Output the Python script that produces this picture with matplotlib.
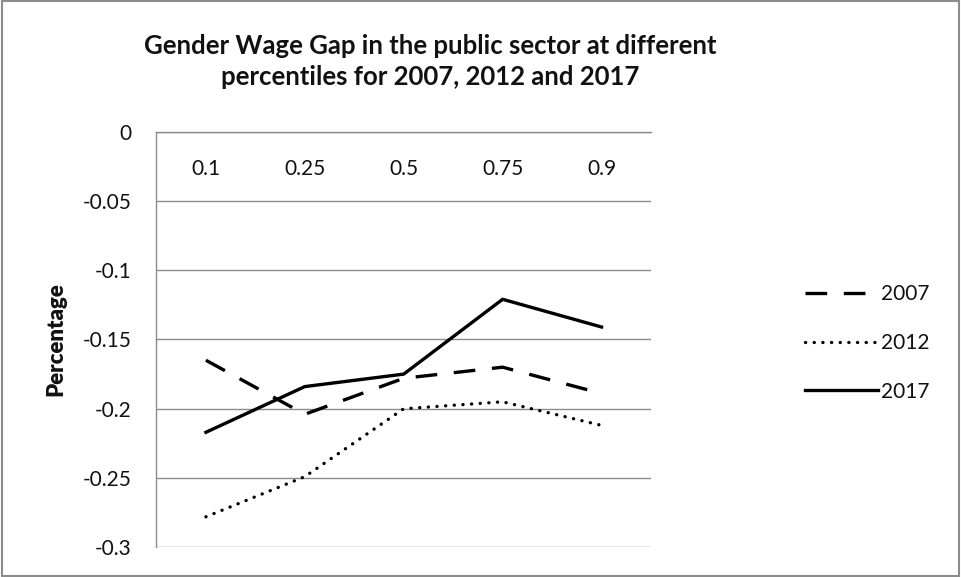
import matplotlib
matplotlib.use("Agg")
import matplotlib.pyplot as plt
from matplotlib.patches import Rectangle

plt.rcParams['font.family'] = ['Lato', 'DejaVu Sans']

percentiles = ["0.1", "0.25", "0.5", "0.75", "0.9"]
gap_2007 = [-0.165, -0.204, -0.178, -0.170, -0.189]
gap_2012 = [-0.278, -0.249, -0.200, -0.195, -0.212]
gap_2017 = [-0.217, -0.184, -0.175, -0.121, -0.141]
y_ticks = [0, -0.05, -0.1, -0.15, -0.2, -0.25, -0.3]
y_labels = ["0", "-0.05", "-0.1", "-0.15", "-0.2", "-0.25", "-0.3"]

grid_color = "#8c8c8c"
text_color = "#111111"

fig = plt.figure(figsize=(9.61, 5.77), dpi=100)
fig.patches.append(Rectangle((0.002, 0.002), 0.996, 0.996, transform=fig.transFigure,
                             fill=False, edgecolor="#8c8c8c", linewidth=1.5))
ax = fig.add_axes([0.1628, 0.0515, 0.5146, 0.7203])

x = list(range(len(percentiles)))
ax.plot(x, gap_2007, color="black", linewidth=2.4, dashes=(6.5, 5), label="2007")
ax.plot(x, gap_2012, color="black", linewidth=2.4, linestyle=(0, (0.05, 2.55)),
        dash_capstyle="round", label="2012")
ax.plot(x, gap_2017, color="black", linewidth=2.4, label="2017")

ax.set_xlim(-0.5, len(percentiles) - 0.5)
ax.set_ylim(-0.3, 0)
ax.set_yticks(y_ticks)
ax.set_yticklabels(y_labels)
ax.set_xticks(x)
ax.set_xticklabels(percentiles)

ax.grid(axis="y", color=grid_color, linewidth=1)
ax.set_axisbelow(True)
for side in ["right", "bottom"]:
    ax.spines[side].set_visible(False)
for side in ["left", "top"]:
    ax.spines[side].set_color(grid_color)
    ax.spines[side].set_linewidth(1)

ax.tick_params(axis="y", length=0, pad=18, labelsize=15, labelcolor=text_color)
ax.tick_params(axis="x", length=0, top=True, labeltop=True, bottom=False,
               labelbottom=False, pad=-34, labelsize=15, labelcolor=text_color)

ax.set_ylabel("Percentage", fontsize=16, fontweight="heavy", labelpad=12, color=text_color)

fig.text(0.448, 0.893, "Gender Wage Gap in the public sector at different\npercentiles for 2007, 2012 and 2017",
         ha="center", va="center", fontsize=18.5, fontweight="bold", linespacing=1.35, color=text_color)

fig.legend(loc="center left", bbox_to_anchor=(0.818, 0.4055), frameon=False,
           fontsize=15, handlelength=3.5, handletextpad=0.15, labelspacing=1.38,
           labelcolor=text_color)

fig.savefig("out.png", dpi=100)
